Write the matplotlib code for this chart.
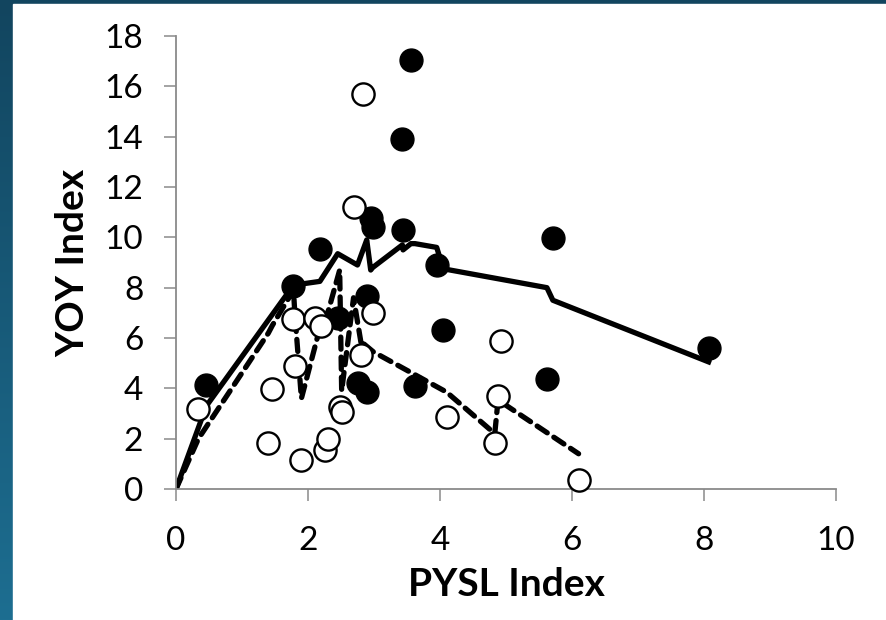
import numpy as np
import matplotlib
matplotlib.use("Agg")
from matplotlib import pyplot as plt
from matplotlib.patches import Rectangle

# filled points (black circles)
filled_x = [0.46, 1.78, 2.18, 2.45, 2.75, 2.90, 2.89, 2.95, 2.98, 3.43,
            3.44, 3.56, 3.62, 3.95, 4.05, 5.62, 5.71, 8.07]
filled_y = [4.13, 8.05, 9.55, 6.8, 4.22, 3.85, 7.65, 10.75, 10.4, 13.9,
            10.3, 17.05, 4.08, 8.9, 6.3, 4.37, 9.97, 5.62]

# open points (white circles)
open_x = [0.34, 1.40, 1.46, 1.78, 1.80, 1.90, 2.10, 2.20, 2.26, 2.31, 2.48,
          2.51, 2.69, 2.81, 2.83, 2.99, 4.10, 4.83, 4.88, 4.93, 6.10]
open_y = [3.18, 1.84, 3.97, 6.75, 4.90, 1.17, 6.80, 6.47, 1.55, 2.0, 3.25,
          3.05, 11.2, 5.32, 15.7, 7.0, 2.87, 1.83, 3.7, 5.88, 0.36]

# fitted curve for filled points (solid)
fit_solid_x = [0, 0.46, 1.78, 2.18, 2.45, 2.75, 2.89, 2.90, 2.95, 2.98, 3.43,
               3.44, 3.56, 3.62, 3.95, 4.05, 5.62, 5.71, 8.07]
fit_solid_y = [0, 3.3, 8.1, 8.25, 9.35, 8.9, 9.9, 9.7, 8.7, 8.8, 9.7,
               9.5, 9.75, 9.75, 9.6, 8.75, 8.0, 7.5, 5.05]

# fitted curve for open points (dashed)
fit_dash_x = [0, 0.34, 1.40, 1.46, 1.78, 1.80, 1.90, 2.10, 2.20, 2.26, 2.31,
              2.48, 2.51, 2.69, 2.81, 2.83, 2.99, 4.10, 4.83, 4.88, 4.93, 6.10]
fit_dash_y = [0, 2.0, 6.2, 6.5, 7.9, 7.0, 3.6, 5.6, 6.6, 6.8, 7.1,
              8.7, 3.9, 7.6, 5.7, 5.8, 5.45, 3.85, 2.2, 3.55, 3.45, 1.4]

xticks = [0, 2, 4, 6, 8, 10]
yticks = [0, 2, 4, 6, 8, 10, 12, 14, 16, 18]

plt.rcParams["font.family"] = ["Lato", "DejaVu Sans"]

fig = plt.figure(figsize=(8.86, 6.2), dpi=100)

# blue gradient behind the white slide area
bg = fig.add_axes([0, 0, 1, 1])
grad = np.linspace(0, 1, 256).reshape(-1, 1)
cmap = matplotlib.colors.LinearSegmentedColormap.from_list("bg", ["#12455f", "#1d6e91"])
bg.imshow(grad, aspect="auto", cmap=cmap, extent=[0, 1, 0, 1], origin="upper")
bg.add_patch(Rectangle((13 / 886, 0), 1, 1 - 4 / 620, color="white", zorder=2))
bg.set_xlim(0, 1)
bg.set_ylim(0, 1)
bg.axis("off")

ax = fig.add_axes([176 / 886, 131 / 620, 660 / 886, 453 / 620])
ax.set_facecolor("none")

ax.plot(fit_solid_x, fit_solid_y, color="black", lw=3.8, zorder=2,
        solid_joinstyle="round")
ax.plot(fit_dash_x, fit_dash_y, color="black", lw=3.8, zorder=2,
        dashes=(2.3, 1.5), dash_capstyle="round")
ax.plot(filled_x, filled_y, "o", color="black", ms=16.5, zorder=3, clip_on=False)
ax.plot(open_x, open_y, "o", mfc="white", mec="black", mew=1.7, ms=16,
        zorder=4, clip_on=False)

ax.set_xlim(0, 10)
ax.set_ylim(0, 18)
ax.set_xticks(xticks)
ax.set_yticks(yticks)
ax.set_xticklabels([str(v) for v in xticks])
ax.set_yticklabels([str(v) for v in yticks])

for side in ["top", "right"]:
    ax.spines[side].set_visible(False)
for side in ["left", "bottom"]:
    ax.spines[side].set_color("#8a8a8a")
    ax.spines[side].set_linewidth(1.3)
ax.tick_params(direction="out", length=8.5, width=1.1, color="#8a8a8a",
               labelsize=24, labelcolor="black")
ax.tick_params(axis="y", pad=15)
ax.tick_params(axis="x", pad=18)

ax.set_xlabel("PYSL Index", fontsize=28, fontweight="bold", labelpad=8)
ax.set_ylabel("YOY Index", fontsize=28, fontweight="bold", labelpad=10)

fig.savefig("out.png", dpi=100)
